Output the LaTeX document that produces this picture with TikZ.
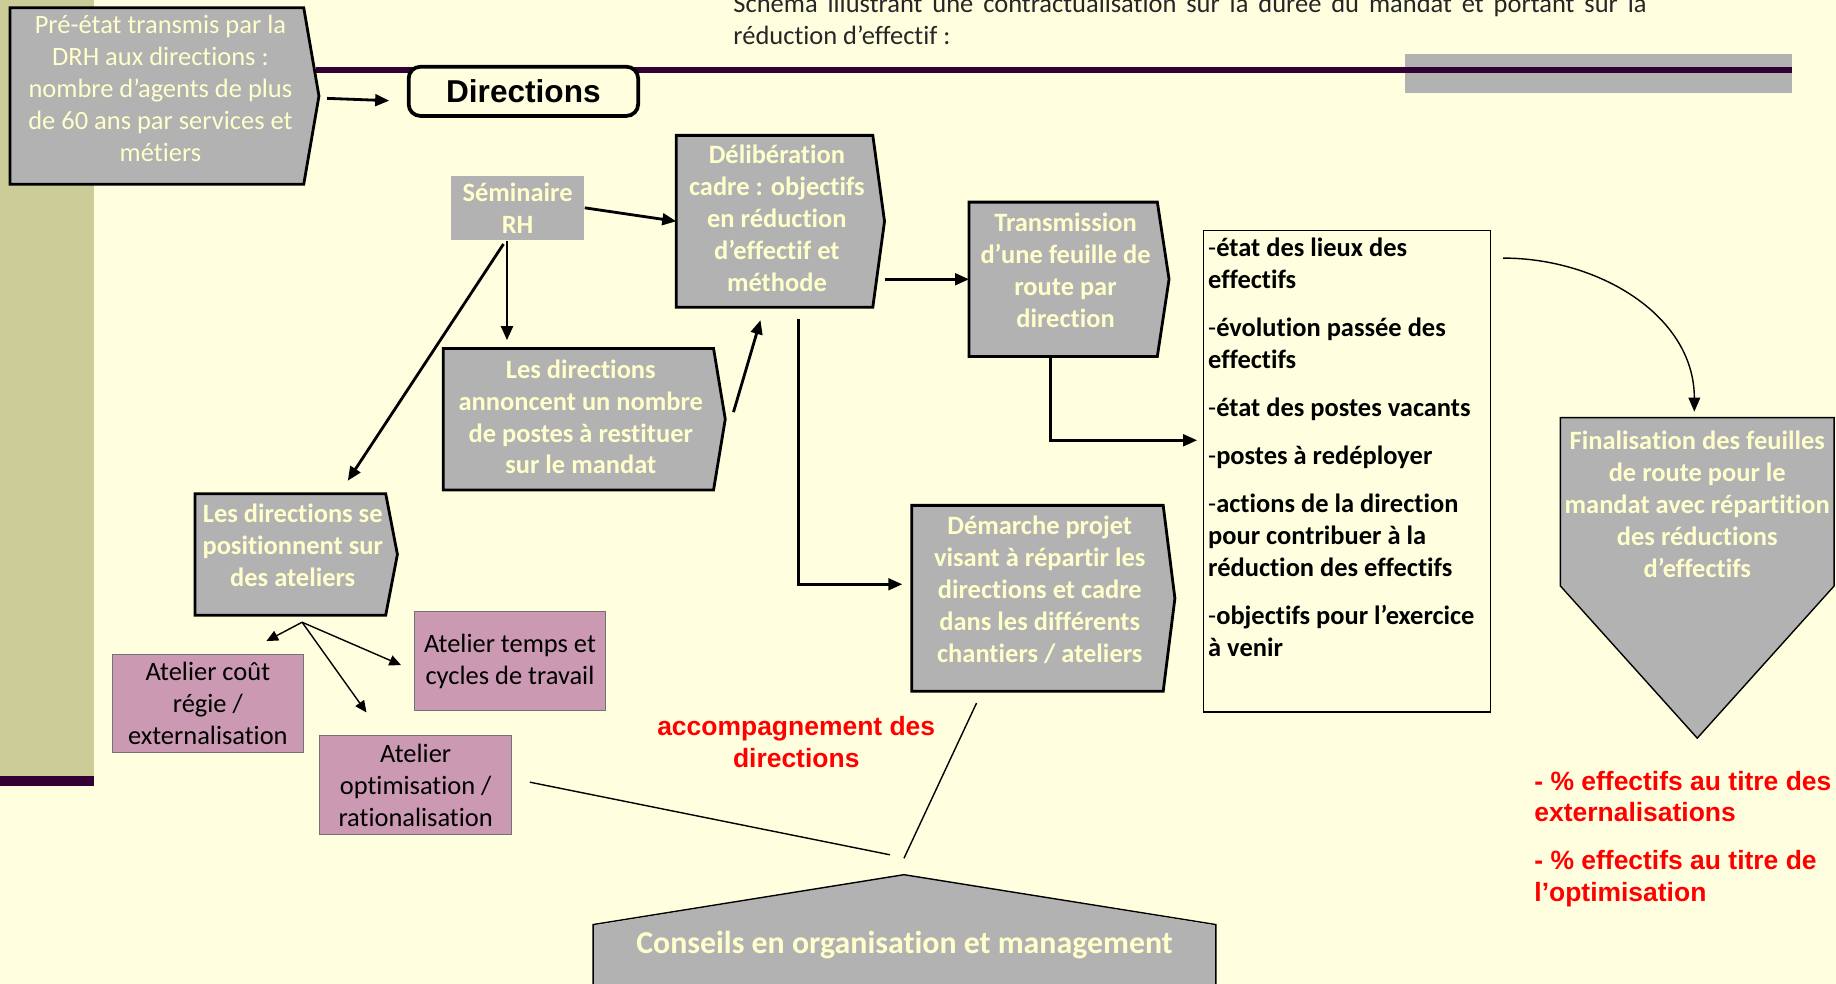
\documentclass[tikz,border=0pt]{standalone}
\usepackage{fontspec}
\setmainfont{Carlito}[Ligatures=NoCommon]
\newfontfamily\arialfont{Liberation Sans}
\usetikzlibrary{calc,arrows.meta}

\definecolor{cream}{HTML}{FFFFE0}
\definecolor{boxtext}{HTML}{FFFFCC}
\definecolor{boxgray}{HTML}{B2B2B2}
\definecolor{khaki}{HTML}{CCCC99}
\definecolor{plum}{HTML}{330033}
\definecolor{atelierpink}{HTML}{CC99B2}

\newcommand{\bodysize}{\fontsize{11.3pt}{13.65pt}\selectfont}

\tikzset{
  >={Triangle[length=6pt,width=5pt]},
  greybox/.style={fill=boxgray, inner sep=0pt},
  boxlabel/.style={text=boxtext, font=\bodysize\bfseries, align=center, inner sep=0pt},
  notelabel/.style={text=boxtext, font=\bodysize, align=center, inner sep=0pt},
  atelier/.style={fill=atelierpink, draw=black!55, line width=0.5pt, text=black,
                  font=\bodysize, align=center, inner sep=0pt},
  boxline/.style={draw=black, line width=1.2pt},
  thinline/.style={draw=black, line width=0.6pt},
  flow/.style={->, line width=1.2pt},
  branch/.style={-{Triangle[length=5pt,width=4.5pt]}, line width=0.6pt},
  redtext/.style={text=red, font=\arialfont\bfseries\fontsize{11.3pt}{13.5pt}\selectfont,
                  inner sep=0pt}
}

% grey box with a pointed right side
\newcommand{\pointright}[2]{%
  \fill[boxgray] ([xshift=-0.5pt]#1.north east) -- ($(#1.east)+(#2,0)$)
    -- ([xshift=-0.5pt]#1.south east) -- cycle;
  \draw[boxline] (#1.north west) -- (#1.north east) -- ($(#1.east)+(#2,0)$)
    -- (#1.south east) -- (#1.south west) -- cycle;
}

\begin{document}
\begin{tikzpicture}[x=0.5pt,y=-0.5pt]
  \useasboundingbox (0,0) rectangle (1568,840);
  \clip (0,0) rectangle (1568,840);
  \fill[cream] (0,0) rectangle (1568,840);

  % Draw side band and header rule.
  \fill[khaki] (0,0) rectangle (80,663);
  \fill[plum] (0,663) rectangle (80,671);
  \fill[boxgray] (1200,46) rectangle (1530,79);
  \draw[plum, line width=2.5pt] (270,60) -- (1530,60);

  \node[anchor=north west, inner sep=0pt, font=\bodysize, text=black!85, align=left] (titre)
    at (626,-5.5) {\hbox to 390pt{Schéma illustrant une contractualisation sur la durée du mandat et portant sur la}\\réduction d’effectif :};

  % Draw the process boxes.
  \node[greybox, minimum width=125pt, minimum height=75pt] (preetat) at (134,82) {};
  \pointright{preetat}{13}
  \node[notelabel] (preetattxt) at ([xshift=1.5pt,yshift=3.25pt]preetat)
    {Pré-état transmis par la\\DRH aux directions :\\nombre d’agents de plus\\de 60 ans par services et\\métiers};

  \node[draw, fill=cream, line width=1.6pt, rounded corners=5pt, minimum width=98pt,
        minimum height=21pt, inner sep=0pt,
        font=\arialfont\bfseries\fontsize{13.5pt}{16pt}\selectfont] (directions) at (447,78) {Directions};

  \node[greybox, boxlabel, minimum width=57pt, minimum height=27.5pt] (seminaire) at (442,177.5) {Séminaire\\RH};

  \node[greybox, minimum width=83.5pt, minimum height=73pt] (delib) at (661.5,189) {};
  \pointright{delib}{10}
  \node[boxlabel] (delibtxt) at ([xshift=1pt,yshift=1.25pt]delib)
    {Délibération\\cadre : objectifs\\en réduction\\d’effectif et\\méthode};

  \node[greybox, minimum width=80pt, minimum height=65.5pt] (transmission) at (908,238.5) {};
  \pointright{transmission}{10}
  \node[boxlabel] (transmissiontxt) at ([xshift=1pt,yshift=4pt]transmission)
    {Transmission\\d’une feuille de\\route par\\direction};

  \node[greybox, minimum width=115pt, minimum height=60pt] (annoncent) at (494,358) {};
  \pointright{annoncent}{10}
  \node[boxlabel] (annoncenttxt) at ([xshift=1pt,yshift=1pt]annoncent)
    {Les directions\\annoncent un nombre\\de postes à restituer\\sur le mandat};

  \node[greybox, minimum width=81pt, minimum height=51.5pt] (positionnent) at (248,473.5) {};
  \pointright{positionnent}{10}
  \node[boxlabel] (positionnenttxt) at ([xshift=1pt,yshift=4pt]positionnent)
    {Les directions se\\positionnent sur\\des ateliers};

  \node[greybox, minimum width=107pt, minimum height=79pt] (demarche) at (886,511) {};
  \pointright{demarche}{10}
  \node[boxlabel] (demarchetxt) at ([xshift=1pt,yshift=3.75pt]demarche)
    {Démarche projet\\visant à répartir les\\directions et cadre\\dans les différents\\chantiers / ateliers};

  % Draw the workshops.
  \node[atelier, minimum width=81.5pt, minimum height=42pt] (cout) at (177.5,601)
    {Atelier coût\\régie /\\externalisation};
  \node[atelier, minimum width=81.5pt, minimum height=42.5pt] (temps) at (435.5,564.5)
    {Atelier temps et\\cycles de travail};
  \node[atelier, minimum width=82pt, minimum height=42.5pt] (optim) at (355,670.5)
    {Atelier\\optimisation /\\rationalisation};

  % Draw the list of contents.
  \node[thinline, fill=cream, minimum width=122.5pt, minimum height=205.5pt, inner sep=0pt] (liste)
    at (1150.5,402.5) {};
  \node[anchor=north west, inner xsep=2pt, inner ysep=3pt, font=\bodysize, align=left] (points)
    at (liste.north west)
    {-\textbf{état des lieux des}\\\textbf{effectifs}\\[6.9pt]
     -\textbf{évolution passée des}\\\textbf{effectifs}\\[6.9pt]
     -\textbf{état des postes vacants}\\[6.9pt]
     -\textbf{postes à redéployer}\\[6.9pt]
     -\textbf{actions de la direction}\\\textbf{pour contribuer à la}\\\textbf{réduction des effectifs}\\[6.9pt]
     -\textbf{objectifs pour l’exercice}\\\textbf{à venir}};

  % Draw finalisation arrow shape.
  \node[greybox, minimum width=116.5pt, minimum height=71.5pt] (final) at (1449.5,428.5) {};
  \coordinate (finaltip) at ($(final.south)+(0,130)$);
  \fill[boxgray] ([yshift=0.5pt]final.south west) -- (finaltip) -- ([yshift=0.5pt]final.south east) -- cycle;
  \draw[thinline] (final.north west) -- (final.north east) -- (final.south east) -- (finaltip)
    -- (final.south west) -- cycle;
  \node[boxlabel] (finaltxt) at ([yshift=-1pt]final)
    {Finalisation des feuilles\\de route pour le\\mandat avec répartition\\des réductions\\d’effectifs};

  % Draw consulting shape.
  \node[greybox, boxlabel, minimum width=265.5pt, minimum height=17pt,
        font=\bfseries\fontsize{13.6pt}{16pt}\selectfont] (conseils) at (772.5,807)
    {Conseils en organisation et management};
  \coordinate (apex) at (772,747);
  \fill[boxgray] ([yshift=-0.5pt]conseils.north west) -- (apex) -- ([yshift=-0.5pt]conseils.north east) -- cycle;
  \fill[boxgray] ([yshift=0.5pt]conseils.south west) rectangle ($(conseils.south east)+(0,40)$);
  \draw[thinline] ($(conseils.south west)+(0,40)$) -- (conseils.north west) -- (apex)
    -- (conseils.north east) -- ($(conseils.south east)+(0,40)$);

  % Red labels.
  \node[redtext, align=center] (accomp) at (680,633.5) {accompagnement des\\directions};
  \node[redtext, align=left, anchor=north west] (pourcents) at (1310,658)
    {- \% effectifs au titre des\\externalisations\\[6.9pt]- \% effectifs au titre de\\l’optimisation};

  % Connectors.
  \draw[flow] ([xshift=10pt,yshift=-1pt]preetat.east) -- ([xshift=-7.5pt,yshift=-4pt]directions.west);
  \draw[flow] (seminaire.east) -- (delib.west);
  \draw[flow] ([xshift=5pt]transmission.west -| delib.east) -- (transmission.west);
  \draw[flow] ([xshift=-4.5pt]seminaire.south) -- ([xshift=-4.5pt,yshift=3.5pt]seminaire.south |- annoncent.north);
  \draw[flow] ([xshift=8.5pt,yshift=3pt]annoncent.east) -- ([xshift=-6pt,yshift=-5.5pt]delib.south);
  \draw[flow] ([xshift=-6pt,yshift=-1.5pt]seminaire.south) -- ([xshift=24.5pt,yshift=5.5pt]positionnent.north);
  \draw[flow] ([xshift=10.25pt,yshift=-5pt]delib.south) |- ([xshift=-4pt,yshift=6pt]demarche.west);
  \draw[flow] ([xshift=-5.5pt]transmission.south) |- ([xshift=-2.5pt,yshift=13.25pt]liste.west);

  \coordinate (fork) at ([xshift=5pt,yshift=-3pt]positionnent.south);
  \draw[branch] (fork) -- ([xshift=25pt,yshift=5.5pt]cout.north);
  \draw[branch] (fork) -- ([xshift=-5.5pt,yshift=-1.75pt]temps.west);
  \draw[branch] (fork) -- ([xshift=-21pt,yshift=9.5pt]optim.north);

  \draw[branch, -{Triangle[length=6pt,width=5pt]}] ([xshift=5pt,yshift=-12pt]liste.north east)
    to[out=0, in=90] ([xshift=-1.25pt,yshift=2.5pt]final.north);

  \draw[thinline] ([xshift=7.5pt,yshift=1.25pt]optim.east) -- ([xshift=-6pt,yshift=8.5pt]apex);
  \draw[thinline] ([xshift=-26pt,yshift=-5pt]demarche.south) -- ([yshift=7pt]apex);
\end{tikzpicture}
\end{document}
